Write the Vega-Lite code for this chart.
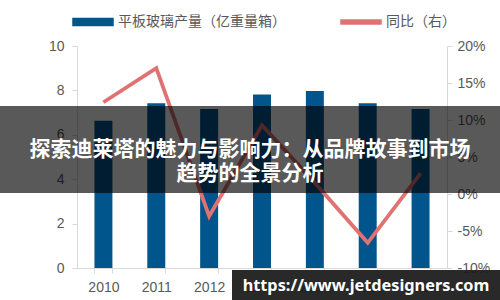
{
  "$schema": "https://vega.github.io/schema/vega-lite/v6.json",
  "width": 370,
  "height": 222,
  "autosize": {"type": "none"},
  "padding": {"left": 77, "top": 46, "right": 53, "bottom": 32},
  "background": "white",
  "config": {
    "view": {"stroke": null},
    "axis": {"grid": false, "labelFont": "Liberation Sans", "labelFontSize": 14, "labelColor": "#595959", "domainColor": "#d9d9d9", "tickColor": "#d9d9d9", "tickSize": 5, "title": null}
  },
  "data": {
    "values": [
      {"year": "2010", "output": 6.63, "yoy": 0.124},
      {"year": "2011", "output": 7.42, "yoy": 0.170},
      {"year": "2012", "output": 7.16, "yoy": -0.030},
      {"year": "2013", "output": 7.82, "yoy": 0.093},
      {"year": "2014", "output": 7.97, "yoy": 0.015},
      {"year": "2015", "output": 7.42, "yoy": -0.066},
      {"year": "2016", "output": 7.16, "yoy": 0.028}
    ]
  },
  "resolve": {"scale": {"y": "independent"}},
  "layer": [
    {
      "mark": {"type": "bar"},
      "encoding": {
        "x": {"field": "year", "type": "ordinal", "scale": {"paddingInner": 0.66, "paddingOuter": 0.33}, "axis": {"labelAngle": 0, "tickBand": "extent", "labelPadding": 7}},
        "y": {"field": "output", "type": "quantitative", "scale": {"domain": [0, 10]}, "axis": {"values": [0, 2, 4, 6, 8, 10], "labelPadding": 8}},
        "color": {
          "datum": "平板玻璃产量（亿重量箱）",
          "scale": {"domain": ["平板玻璃产量（亿重量箱）", "同比（右）"], "range": ["#00558c", "#e07272"]},
          "legend": {
            "title": null,
            "orient": "none",
            "direction": "horizontal",
            "legendX": -5,
            "legendY": -45,
            "symbolSize": 1600,
            "labelFont": "Noto Sans CJK SC",
            "labelFontSize": 14,
            "labelColor": "#595959",
            "labelLimit": 400,
            "labelOffset": 4,
            "columnPadding": 52,
            "symbolType": "M-1,-0.18H1V0.18H-1Z",
            "encode": {
              "symbols": {
                "update": {
                  "shape": {"signal": "datum.value === '同比（右）' ? 'M-1,-0.1H1V0.1H-1Z' : 'M-1,-0.18H1V0.18H-1Z'"},
                  "fill": {"scale": "color", "field": "value"},
                  "stroke": {"value": "transparent"},
                  "opacity": {"value": 1}
                }
              }
            }
          }
        }
      }
    },
    {
      "mark": {"type": "line", "strokeWidth": 3.8},
      "encoding": {
        "x": {"field": "year", "type": "ordinal"},
        "y": {"field": "yoy", "type": "quantitative", "scale": {"domain": [-0.1, 0.2]}, "axis": {"orient": "right", "format": ".0%", "values": [-0.1, -0.05, 0, 0.05, 0.1, 0.15, 0.2], "labelPadding": 5, "labelExpr": "replace(datum.label, '−', '-')"}},
        "color": {"datum": "同比（右）"}
      }
    },
    {
      "data": {"values": [{}]},
      "mark": {"type": "rect", "color": "black", "opacity": 0.65},
      "encoding": {"x": {"value": -77}, "x2": {"value": 423}, "y": {"value": 60}, "y2": {"value": 147}}
    },
    {
      "data": {"values": [{}]},
      "mark": {"type": "text", "text": ["探索迪莱塔的魅力与影响力：从品牌故事到市场", "趋势的全景分析"], "font": "Noto Sans CJK SC", "fontSize": 21, "fontWeight": "bold", "color": "white", "align": "center", "baseline": "middle", "lineHeight": 24},
      "encoding": {"x": {"value": 173}, "y": {"value": 104}}
    },
    {
      "data": {"values": [{}]},
      "mark": {"type": "rect", "color": "#1e1e1e", "opacity": 0.95},
      "encoding": {"x": {"value": 155}, "x2": {"value": 423}, "y": {"value": 224}, "y2": {"value": 254}}
    },
    {
      "data": {"values": [{}]},
      "mark": {"type": "text", "text": "https://www.jetdesigners.com", "font": "Noto Sans", "fontSize": 16.3, "fontWeight": "bold", "color": "white", "align": "center", "baseline": "middle"},
      "encoding": {"x": {"value": 289}, "y": {"value": 240}}
    }
  ]
}
